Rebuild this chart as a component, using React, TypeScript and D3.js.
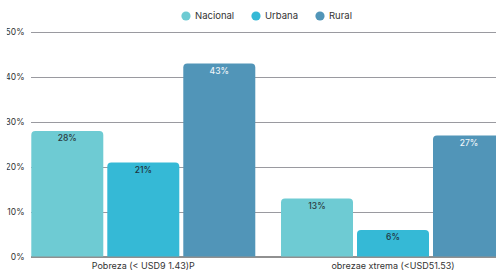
import React from 'react';
import * as d3 from 'd3';

const categories = ['Pobreza (< USD9 1.43)P', 'obrezae xtrema (<USD51.53)'];
const seriesNames = ['Nacional', 'Urbana', 'Rural'];
const nacional = [28, 13];
const urbana = [21, 6];
const rural = [43, 27];
const yTicks = [0, 10, 20, 30, 40, 50];

const colors = ['#6ecbd3', '#35b9d6', '#5195b8'];
const labelColors = ['#2b3a40', '#1f3440', '#eef4f8'];
const font = 'Inter, "Noto Sans", sans-serif';

function topRounded(x: number, y: number, w: number, h: number, r: number) {
  r = Math.min(r, h, w / 2);
  return `M${x},${y + h}V${y + r}Q${x},${y} ${x + r},${y}H${x + w - r}Q${x + w},${y} ${x + w},${y + r}V${y + h}Z`;
}

export default function App() {
  const width = 496;
  const height = 271;
  const values = [nacional, urbana, rural];

  const y = d3.scaleLinear().domain([0, 50]).range([257, 32]);
  const x0 = d3.scaleBand<string>().domain(categories).range([31.3, 505]).paddingInner(0.103).paddingOuter(0);
  const x1 = d3.scaleBand<string>().domain(seriesNames).range([0, x0.bandwidth()]).paddingInner(0.0526);

  const legendX = [186, 256, 320];

  return (
    <svg width={width} height={height} style={{ position: 'fixed', left: 0, top: 0 }} fontFamily={font}>
      <defs>
        <clipPath id="ylab">
          <rect x={6.8} y={0} width={30} height={height} />
        </clipPath>
      </defs>
      <rect width={width} height={height} fill="#fff" />

      {/* legend */}
      {seriesNames.map((s, i) => (
        <g key={s}>
          <circle cx={legendX[i]} cy={16} r={4.6} fill={colors[i]} />
          <text x={legendX[i] + 9} y={16} dy="0.35em" fontSize={9.5} fill="#333">
            {s}
          </text>
        </g>
      ))}

      {/* grid */}
      {yTicks.map((t) => (
        <g key={t}>
          {t > 0 && <line x1={31} x2={width} y1={y(t) + 0.5} y2={y(t) + 0.5} stroke="#9a9aa0" strokeWidth={1} />}
          <text x={24.5} y={y(t)} dy="0.35em" textAnchor="end" fontSize={8.5} fill="#333" clipPath="url(#ylab)">
            {t}%
          </text>
        </g>
      ))}
      <line x1={31} x2={width} y1={y(0)} y2={y(0)} stroke="#222" strokeWidth={1.2} />

      {/* bars */}
      {categories.map((c, ci) => (
        <g key={c} transform={`translate(${x0(c)},0)`}>
          {seriesNames.map((s, si) => {
            const v = values[si][ci];
            const bx = x1(s) as number;
            const top = y(v);
            return (
              <g key={s}>
                <path d={topRounded(bx, top, x1.bandwidth(), y(0) - 0.5 - top, 4)} fill={colors[si]} />
                <text
                  x={bx + x1.bandwidth() / 2}
                  y={top + 10}
                  textAnchor="middle"
                  fontSize={8.5}
                  fontWeight={500}
                  fill={labelColors[si]}
                >
                  {v}%
                </text>
              </g>
            );
          })}
          <text x={x0.bandwidth() / 2} y={266} dy="0.35em" textAnchor="middle" fontSize={9} fill="#333">
            {c}
          </text>
        </g>
      ))}
    </svg>
  );
}
